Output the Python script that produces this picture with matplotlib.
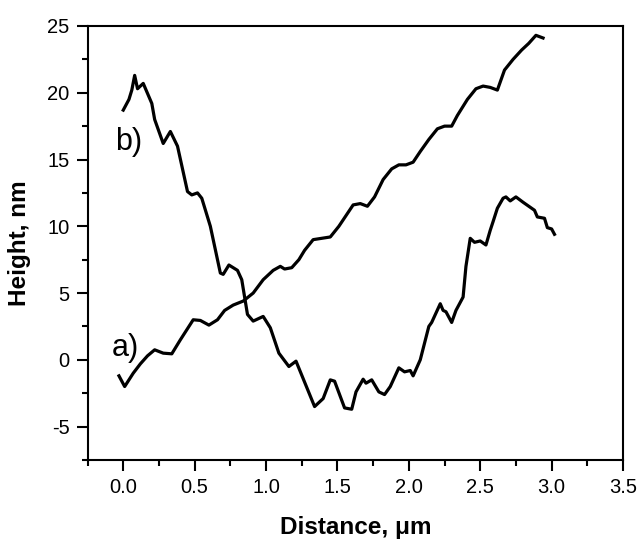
import matplotlib
matplotlib.use('Agg')
import matplotlib.pyplot as plt
from matplotlib.ticker import MultipleLocator

plt.rcParams['font.family'] = ['Liberation Sans', 'DejaVu Sans']
plt.rcParams['axes.unicode_minus'] = False

# profile a) - rising
dist_a = [-0.03, 0.01, 0.07, 0.12, 0.17, 0.22, 0.28, 0.34, 0.40, 0.49, 0.54, 0.60,
          0.66, 0.71, 0.77, 0.84, 0.91, 0.98, 1.05, 1.10, 1.13, 1.18, 1.23, 1.27,
          1.33, 1.45, 1.51, 1.56, 1.61, 1.66, 1.71, 1.76, 1.82, 1.88, 1.93, 1.98,
          2.03, 2.08, 2.14, 2.20, 2.25, 2.30, 2.34, 2.41, 2.47, 2.52, 2.57, 2.62,
          2.67, 2.73, 2.79, 2.84, 2.89, 2.94]
height_a = [-1.2, -2.0, -1.0, -0.3, 0.3, 0.75, 0.5, 0.45, 1.5, 3.0, 2.95, 2.6,
            3.0, 3.7, 4.1, 4.4, 5.0, 6.0, 6.7, 7.0, 6.8, 6.9, 7.5, 8.2,
            9.0, 9.2, 10.0, 10.8, 11.6, 11.7, 11.5, 12.2, 13.5, 14.3, 14.6, 14.6,
            14.8, 15.6, 16.5, 17.3, 17.5, 17.5, 18.3, 19.5, 20.3, 20.5, 20.4, 20.2,
            21.7, 22.5, 23.2, 23.7, 24.3, 24.1]

# profile b) - valley
dist_b = [0.0, 0.04, 0.06, 0.08, 0.10, 0.12, 0.14, 0.20, 0.22, 0.28, 0.33, 0.38,
          0.45, 0.48, 0.52, 0.55, 0.61, 0.68, 0.70, 0.74, 0.80, 0.83, 0.85, 0.87,
          0.91, 0.95, 0.98, 1.03, 1.09, 1.16, 1.21, 1.34, 1.40, 1.45, 1.48, 1.55,
          1.60, 1.63, 1.68, 1.70, 1.74, 1.79, 1.83, 1.87, 1.93, 1.97, 2.01, 2.03,
          2.08, 2.14, 2.16, 2.22, 2.24, 2.26, 2.30, 2.33, 2.38, 2.40, 2.43, 2.46,
          2.50, 2.54, 2.57, 2.59, 2.62, 2.66, 2.68, 2.71, 2.75, 2.80, 2.86, 2.88,
          2.90, 2.95, 2.97, 3.00, 3.02]
height_b = [18.7, 19.5, 20.2, 21.3, 20.3, 20.5, 20.7, 19.2, 18.0, 16.2, 17.1, 16.0,
            12.6, 12.35, 12.5, 12.1, 10.0, 6.5, 6.4, 7.1, 6.7, 6.0, 4.7, 3.4,
            2.9, 3.1, 3.25, 2.4, 0.5, -0.5, -0.1, -3.5, -2.9, -1.5, -1.6, -3.6,
            -3.7, -2.4, -1.45, -1.75, -1.5, -2.4, -2.6, -2.0, -0.6, -0.9, -0.8, -1.2,
            0.0, 2.5, 2.8, 4.2, 3.7, 3.6, 2.8, 3.7, 4.7, 7.0, 9.1, 8.8,
            8.9, 8.6, 9.7, 10.35, 11.35, 12.1, 12.2, 11.9, 12.2, 11.8, 11.35, 11.2,
            10.7, 10.6, 9.9, 9.8, 9.4]

fig = plt.figure(figsize=(6.39, 5.39), dpi=100)
ax = fig.add_axes([0.137, 0.1466, 0.838, 0.8052])

ax.plot(dist_a, height_a, color='black', lw=2.3)
ax.plot(dist_b, height_b, color='black', lw=2.3)

ax.text(-0.077, 0.3, 'a)', fontsize=22, ha='left', va='baseline')
ax.text(-0.056, 15.7, 'b)', fontsize=22, ha='left', va='baseline')

ax.set_xlim(-0.25, 3.5)
ax.set_ylim(-7.5, 25)
ax.xaxis.set_minor_locator(MultipleLocator(0.25))
ax.yaxis.set_minor_locator(MultipleLocator(2.5))
ax.set_xticks([0, 0.5, 1.0, 1.5, 2.0, 2.5, 3.0, 3.5])
ax.set_xticklabels(['0.0', '0.5', '1.0', '1.5', '2.0', '2.5', '3.0', '3.5'])
ax.set_yticks([-5, 0, 5, 10, 15, 20, 25])

ax.tick_params(which='major', direction='out', length=8, width=1.5, labelsize=14.5, pad=5)
ax.tick_params(which='minor', direction='out', length=4.5, width=1.5)
for s in ax.spines.values():
    s.set_linewidth(1.5)

ax.set_xlabel('Distance, \u03bcm', fontsize=17.5, fontweight='bold', labelpad=14)
ax.set_ylabel('Height, nm', fontsize=17.5, fontweight='bold', labelpad=12)

fig.savefig('out.png', dpi=100)
